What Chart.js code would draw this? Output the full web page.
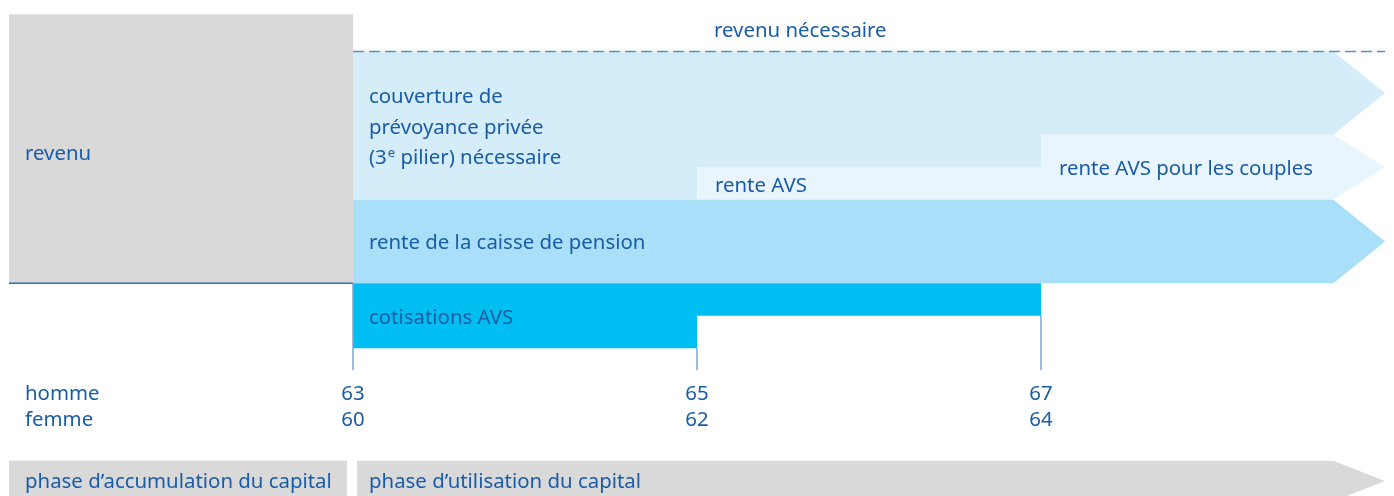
<!DOCTYPE html>
<html lang="fr">
<head>
<meta charset="utf-8">
<title>Retraite anticipée – couverture du revenu</title>
<script src="https://cdn.jsdelivr.net/npm/chart.js@4/dist/chart.umd.min.js"></script>
<style>
	html, body { margin: 0; padding: 0; background: #fff; }
	#wrap { width: 1394px; height: 496px; }
</style>
</head>
<body>
<div id="wrap"><canvas id="ct"></canvas></div>
<script>
// âges repères (homme / femme)
const agesHomme = [63, 65, 67];
const agesFemme = [60, 62, 64];

// niveaux de revenu, revenu nécessaire = 100
const revenuActuel = 116;
const revenuNecessaire = 100;
const renteCaissePension = 36;
const renteAVS = [50, 64];         // dès 65 (seul), dès 67 (couples)
const cotisationsAVS = [-28, -14]; // 63–65, 65–67

// textes
const labelsAxe = ['homme', 'femme'];
const labelsPhases = ['phase d\u2019accumulation du capital', 'phase d\u2019utilisation du capital'];

// axe du temps (âge homme)
const ageDebut = 61;
const ageFin = 69;
const ageFleche = 68.7;

const C = {
	gris: '#d9d9d9',
	couverture: '#d5ecf9',
	avs: '#e9f5fc',
	pension: '#a9dff8',
	cotis: '#00bdf2',
	texte: '#1a5ca6',
	tirets: '#5a8cc6',
	repere: '#7fa5cf',
	ligne: '#2c72bb'
};
const FONT = '20.4px "Noto Sans", sans-serif';

// dessin des surfaces (avant les datasets)
const bandsPlugin = {
	id: 'bands',
	beforeDatasetsDraw(chart) {
		const ctx = chart.ctx;
		const xs = chart.scales.x, ys = chart.scales.y;
		const px = v => xs.getPixelForValue(v);
		const py = v => ys.getPixelForValue(v);
		function poly(pts, color) {
			ctx.beginPath();
			pts.forEach((p, i) => {
				if (i === 0) ctx.moveTo(px(p[0]), py(p[1]));
				else ctx.lineTo(px(p[0]), py(p[1]));
			});
			ctx.closePath();
			ctx.fillStyle = color;
			ctx.fill();
		}
		const a0 = agesHomme[0], a1 = agesHomme[1], a2 = agesHomme[2];
		ctx.save();

		// revenu (phase active)
		poly([[ageDebut, 0], [ageDebut, revenuActuel], [a0, revenuActuel], [a0, 0]], C.gris);
		ctx.strokeStyle = C.ligne;
		ctx.lineWidth = 1.5;
		ctx.beginPath();
		ctx.moveTo(px(ageDebut), py(0));
		ctx.lineTo(px(a0), py(0));
		ctx.stroke();

		// couverture de prévoyance privée
		poly([[a0, renteCaissePension], [a0, revenuNecessaire], [ageFleche, revenuNecessaire],
			[ageFin, (revenuNecessaire + renteAVS[1]) / 2], [ageFleche, renteAVS[1]],
			[a2, renteAVS[1]], [a2, renteAVS[0]], [a1, renteAVS[0]], [a1, renteCaissePension]], C.couverture);

		// rente AVS / couples
		poly([[a1, renteCaissePension], [a1, renteAVS[0]], [a2, renteAVS[0]], [a2, renteAVS[1]],
			[ageFleche, renteAVS[1]], [ageFin, (renteAVS[1] + renteCaissePension) / 2],
			[ageFleche, renteCaissePension]], C.avs);

		// rente de la caisse de pension
		poly([[a0, 0], [a0, renteCaissePension], [ageFleche, renteCaissePension],
			[ageFin, renteCaissePension / 2], [ageFleche, 0]], C.pension);

		// cotisations AVS
		poly([[a0, 0], [a0, cotisationsAVS[0]], [a1, cotisationsAVS[0]], [a1, cotisationsAVS[1]],
			[a2, cotisationsAVS[1]], [a2, 0]], C.cotis);

		// phases
		const yh = -76.5, yb = -94;
		const t = py(yh), b = py(yb);
		ctx.fillStyle = C.gris;
		ctx.fillRect(px(ageDebut), t, px(a0) - 6 - px(ageDebut), b - t);
		ctx.beginPath();
		ctx.moveTo(px(a0) + 4, t);
		ctx.lineTo(px(ageFleche), t);
		ctx.lineTo(px(ageFin), py((yh + yb) / 2));
		ctx.lineTo(px(ageFleche), b);
		ctx.lineTo(px(a0) + 4, b);
		ctx.closePath();
		ctx.fill();

		ctx.restore();
	},
	afterDatasetsDraw(chart) {
		const ctx = chart.ctx;
		const xs = chart.scales.x, ys = chart.scales.y;
		const px = v => xs.getPixelForValue(v);
		const py = v => ys.getPixelForValue(v);
		const a0 = agesHomme[0], a1 = agesHomme[1], a2 = agesHomme[2];
		ctx.save();
		ctx.font = FONT;
		ctx.fillStyle = C.texte;
		ctx.textBaseline = 'alphabetic';
		ctx.textAlign = 'left';

		const xl = px(ageDebut) + 16;
		const x0 = px(a0) + 16;
		ctx.fillText('revenu nécessaire', px(a1) + 17, py(revenuNecessaire) - 14);
		ctx.fillText('revenu', xl, 160);
		ctx.fillText('couverture de', x0, 103);
		ctx.fillText('prévoyance privée', x0, 134);
		// (3e pilier) avec exposant
		let x = x0;
		ctx.fillText('(3', x, 164);
		x += ctx.measureText('(3').width + 1;
		ctx.font = '13px "Noto Sans", sans-serif';
		ctx.fillText('e', x, 157);
		x += ctx.measureText('e').width;
		ctx.font = FONT;
		ctx.fillText(' pilier) nécessaire', x, 164);

		ctx.fillText('rente AVS', px(a1) + 18, 192);
		ctx.fillText('rente AVS pour les couples', px(a2) + 18, 175);
		ctx.fillText('rente de la caisse de pension', x0, 249);
		ctx.fillText('cotisations AVS', x0, 324);

		// axe des âges
		ctx.fillText(labelsAxe[0], xl, 400);
		ctx.fillText(labelsAxe[1], xl, 426);
		ctx.textAlign = 'center';
		agesHomme.forEach((a, i) => {
			ctx.fillText(String(a), px(a), 400);
			ctx.fillText(String(agesFemme[i]), px(a), 426);
		});

		// phases
		ctx.textAlign = 'left';
		ctx.fillText(labelsPhases[0], xl, 488);
		ctx.fillText(labelsPhases[1], x0, 488);
		ctx.restore();
	}
};

// repères verticaux sous les cotisations
const repereBas = -37.5;
const reperes = agesHomme.map((a, i) => ({
	type: 'line',
	data: [{x: a, y: i === 0 ? 0 : cotisationsAVS[i - 1]}, {x: a, y: repereBas}],
	borderColor: C.repere,
	borderWidth: 1.5,
	pointRadius: 0,
	fill: false
}));

const chartConfig = {
	type: 'line',
	data: {
		datasets: [{
			label: 'revenu nécessaire',
			data: [{x: agesHomme[0], y: revenuNecessaire}, {x: ageFin, y: revenuNecessaire}],
			borderColor: C.tirets,
			borderWidth: 1.5,
			borderDash: [11, 5],
			pointRadius: 0,
			fill: false
		}].concat(reperes)
	},
	options: {
		responsive: true,
		maintainAspectRatio: false,
		animation: false,
		events: [],
		layout: { padding: { left: 9, right: 9, top: 5, bottom: 4 } },
		scales: {
			x: { type: 'linear', min: ageDebut, max: ageFin, display: false },
			y: { type: 'linear', min: -90, max: 120, display: false }
		},
		plugins: {
			legend: { display: false },
			tooltip: { enabled: false }
		}
	},
	plugins: [bandsPlugin]
};

new Chart(document.getElementById('ct'), chartConfig);
</script>
</body>
</html>
